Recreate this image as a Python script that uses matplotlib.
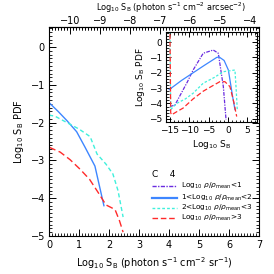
import matplotlib

matplotlib.use("Agg")
import matplotlib.pyplot as plt
from matplotlib.ticker import MultipleLocator
import numpy as np

plt.rcParams["font.family"] = ["DejaVu Sans"]
plt.rcParams["mathtext.fontset"] = "dejavusans"

# offset between sr^-1 and arcsec^-2 units
SR_TO_ARCSEC = 10.7
top_ticks = [-10, -9, -8, -7, -6, -5, -4]

# main panel: log10 SB (photon s^-1 cm^-2 sr^-1) vs log10 PDF
blue_x = [0.0, 0.3, 0.6, 0.92, 1.2, 1.53, 1.83]
blue_y = [-1.47, -1.7, -1.95, -2.24, -2.65, -3.15, -4.2]
cyan_x = [0.0, 0.2, 0.6, 1.0, 1.37, 1.6, 1.9, 2.13, 2.3, 2.47]
cyan_y = [-1.8, -1.83, -2.0, -2.17, -2.37, -2.83, -3.1, -3.36, -3.8, -4.5]
red_x = [0.0, 0.37, 0.7, 1.03, 1.35, 1.63, 1.9, 2.2, 2.35, 2.47]
red_y = [-2.65, -2.78, -2.98, -3.23, -3.5, -3.84, -4.18, -4.3, -4.6, -4.9]

# inset: full range of log10 SB
in_purple_x = [-15.0, -13.7, -12.0, -10.5, -9.0, -6.4, -3.8, -2.5, -1.2, -0.5]
in_purple_y = [-4.2, -4.1, -3.3, -2.6, -1.82, -0.73, -0.52, -0.73, -2.9, -5.06]
in_blue_x = [-15.2, -12.0, -9.0, -6.0, -2.9, -2.3, -1.0, 0.1, 1.2, 1.8]
in_blue_y = [-3.1, -2.5, -2.0, -1.5, -1.0, -0.97, -1.2, -1.82, -3.55, -4.4]
in_cyan_x = [-15.0, -14.8, -13.3, -11.0, -9.0, -6.4, -3.5, -1.2, 1.8, 2.1, 2.4]
in_cyan_y = [1.0, -4.4, -4.0, -3.7, -3.33, -2.68, -2.3, -1.93, -1.82, -3.0, -4.4]
in_red_x = [-15.0, -14.8, -14.6, -13.0, -11.6, -9.0, -6.4, -4.0, -2.1, -0.8, 0.5, 1.5, 2.25]
in_red_y = [1.0, -4.6, -4.74, -4.5, -4.3, -3.7, -3.2, -2.85, -2.58, -2.58, -2.9, -3.9, -4.85]

labels = [r"Log$_{10}$ $\rho/\rho_{\rm mean}$<1",
          r"1<Log$_{10}$ $\rho/\rho_{\rm mean}$<2",
          r"2<Log$_{10}$ $\rho/\rho_{\rm mean}$<3",
          r"Log$_{10}$ $\rho/\rho_{\rm mean}$>3"]

PURPLE = "#6a2be0"
BLUE = "#3d86ff"
CYAN = "#3ff0dc"
RED = "#ff2a2a"


def idl_ticks(ax, size=7):
    ax.tick_params(which="both", direction="in", top=True, right=True,
                   labelsize=size, pad=3)
    ax.tick_params(which="major", length=5, width=0.7)
    ax.tick_params(which="minor", length=2.5, width=0.6)
    for s in ax.spines.values():
        s.set_linewidth(0.8)


fig = plt.figure(figsize=(2.74, 2.74), dpi=100)
ax = fig.add_axes([0.179, 0.139, 0.766, 0.762])
ax.plot(blue_x, blue_y, color=BLUE, lw=1.0)
ax.plot(cyan_x, cyan_y, color=CYAN, lw=1.0, ls=(0, (3, 2)))
ax.plot(red_x, red_y, color=RED, lw=1.0, ls=(0, (5, 2.5)))
ax.set_xlim(0, 7)
ax.set_ylim(-5.0, 0.53)
ax.xaxis.set_major_locator(MultipleLocator(1))
ax.xaxis.set_minor_locator(MultipleLocator(0.1))
ax.yaxis.set_major_locator(MultipleLocator(1))
ax.yaxis.set_minor_locator(MultipleLocator(0.1))
ax.set_yticks([0, -1, -2, -3, -4, -5])
idl_ticks(ax)
ax.tick_params(top=False)
ax.set_xlabel(r"Log$_{10}$ S$_{\rm B}$ (photon s$^{-1}$ cm$^{-2}$ sr$^{-1}$)",
              fontsize=7, labelpad=4)
ax.set_ylabel(r"Log$_{10}$ S$_{\rm B}$ PDF", fontsize=7, labelpad=3)

top = ax.secondary_xaxis("top", functions=(lambda x: x - SR_TO_ARCSEC,
                                            lambda x: x + SR_TO_ARCSEC))
top.set_xticks(top_ticks)
top.xaxis.set_minor_locator(MultipleLocator(0.1))
top.tick_params(which="both", direction="in", labelsize=7, pad=1)
top.tick_params(which="major", length=5, width=0.7)
top.tick_params(which="minor", length=2.5, width=0.6)
fig.text(171 / 274, 1 - 8 / 274,
         r"Log$_{10}$ S$_{\rm B}$ (photon s$^{-1}$ cm$^{-2}$ arcsec$^{-2}$)",
         fontsize=5.9, ha="center", va="center")

# legend drawn by hand in axes coords
ax.text(0.49, 0.292, "C    4", transform=ax.transAxes, fontsize=6.5,
        va="center")
styles = [(PURPLE, (0, (3, 1, 1, 1))), (BLUE, "-"), (CYAN, (0, (2, 1.5))),
          (RED, (0, (4, 2)))]
legend_y = [0.239, 0.182, 0.134, 0.086]
for i, ((c, st), lab) in enumerate(zip(styles, labels)):
    yy = legend_y[i]
    ax.plot([0.49, 0.61], [yy, yy], transform=ax.transAxes, color=c,
            ls=st, lw=1.0 if i != 1 else 1.6)
    ax.text(0.629, yy, lab, transform=ax.transAxes, fontsize=5.3,
            va="center")

ins = fig.add_axes([0.606, 0.555, 0.332, 0.328])
ins.plot(in_purple_x, in_purple_y, color=PURPLE, lw=0.9, ls=(0, (3, 1, 1, 1)))
ins.plot(in_blue_x, in_blue_y, color=BLUE, lw=0.9)
ins.plot(in_cyan_x, in_cyan_y, color=CYAN, lw=0.9, ls=(0, (2, 1.5)))
ins.plot(in_red_x, in_red_y, color=RED, lw=0.9, ls=(0, (4, 2)))
ins.set_xlim(-16, 7.5)
ins.set_ylim(-5.2, 0.65)
ins.xaxis.set_major_locator(MultipleLocator(5))
ins.xaxis.set_minor_locator(MultipleLocator(1))
ins.yaxis.set_major_locator(MultipleLocator(1))
ins.yaxis.set_minor_locator(MultipleLocator(0.2))
idl_ticks(ins, size=6.5)
ins.tick_params(which="major", length=3.5)
ins.tick_params(which="minor", length=1.8)
ins.set_xlabel(r"Log$_{10}$ S$_{\rm B}$", fontsize=6.5, labelpad=2)
ins.set_ylabel(r"Log$_{10}$ S$_{\rm B}$ PDF", fontsize=6.5, labelpad=1)

fig.savefig("out.png", dpi=100)
